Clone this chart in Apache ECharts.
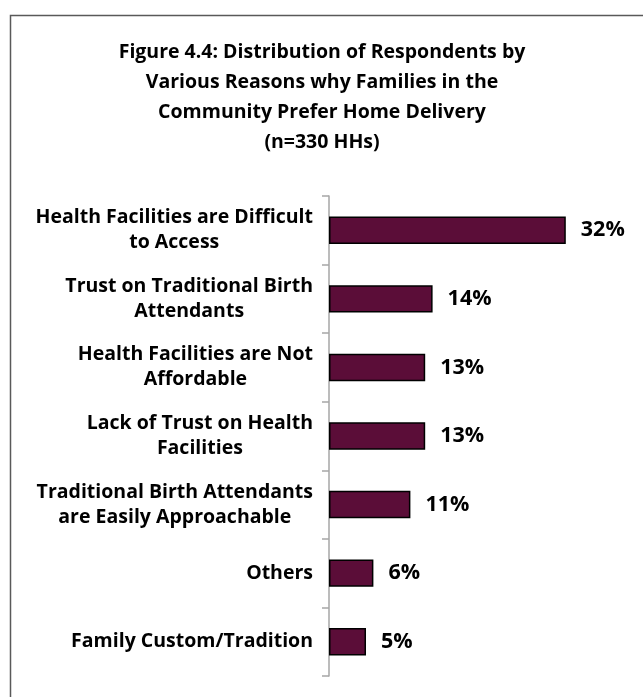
<!DOCTYPE html>
<html>
<head>
<meta charset="utf-8">
<script src="https://cdn.jsdelivr.net/npm/echarts@6/dist/echarts.min.js"></script>
<style>
  html, body { margin: 0; padding: 0; background: #fff; }
  #chart { width: 643px; height: 697px; }
</style>
</head>
<body>
<div id="chart"></div>
<script>
// Reasons for home delivery, share of households (%)
const categories = [
  'Health Facilities are Difficult\nto Access',
  'Trust on Traditional Birth\nAttendants',
  'Health Facilities are Not\nAffordable',
  'Lack of Trust on Health\nFacilities',
  'Traditional Birth Attendants\nare Easily Approachable',
  'Others',
  'Family Custom/Tradition'
];
const shares = [32, 14, 13, 13, 11, 6, 5];
const titleLines = [
  'Figure 4.4: Distribution of Respondents by',
  'Various Reasons why Families in the',
  'Community Prefer Home Delivery',
  '(n=330 HHs)'
];

const FONT = '"Open Sans", Lato, sans-serif';
const chart = echarts.init(document.getElementById('chart'), null, { renderer: 'canvas' });

chart.setOption({
  animation: false,
  backgroundColor: '#ffffff',
  graphic: [{
    type: 'rect',
    left: 8, top: 13,
    shape: { width: 720, height: 760 },
    style: { fill: 'none', stroke: '#595959', lineWidth: 1.5 },
    silent: true
  }, {
    type: 'text',
    x: 322, y: 37,
    style: {
      text: titleLines.join('\n'),
      align: 'center',
      verticalAlign: 'top',
      font: 'bold 19.5px ' + FONT,
      lineHeight: 30,
      fill: '#000'
    },
    silent: true
  }],
  grid: { left: 329, top: 196, bottom: 21, right: 18, containLabel: false },
  xAxis: {
    type: 'value',
    min: 0, max: 40,
    show: false
  },
  yAxis: {
    type: 'category',
    inverse: true,
    data: categories,
    axisLine: { show: true, lineStyle: { color: '#a6a6a6', width: 1.5 } },
    axisTick: { show: true, length: 7, lineStyle: { color: '#a6a6a6', width: 1.5 } },
    axisLabel: {
      margin: 16,
      align: 'right',
      // each line is centred inside the right-aligned label block
      formatter: (v) => v.split('\n').map((s) => '{c|' + s + '}').join('\n'),
      rich: {
        c: {
          align: 'center',
          fontFamily: FONT,
          fontWeight: 'bold',
          fontSize: 19.5,
          lineHeight: 25,
          color: '#000'
        }
      }
    },
    splitLine: { show: false }
  },
  series: [{
    type: 'bar',
    data: shares,
    barWidth: '40%',
    itemStyle: { color: '#5b0d38', borderColor: '#000', borderWidth: 1.5 },
    label: {
      show: true,
      position: 'right',
      distance: 15,
      formatter: '{c}%',
      fontFamily: FONT,
      fontWeight: 'bold',
      fontSize: 21.5,
      color: '#000'
    }
  }]
});
</script>
</body>
</html>
